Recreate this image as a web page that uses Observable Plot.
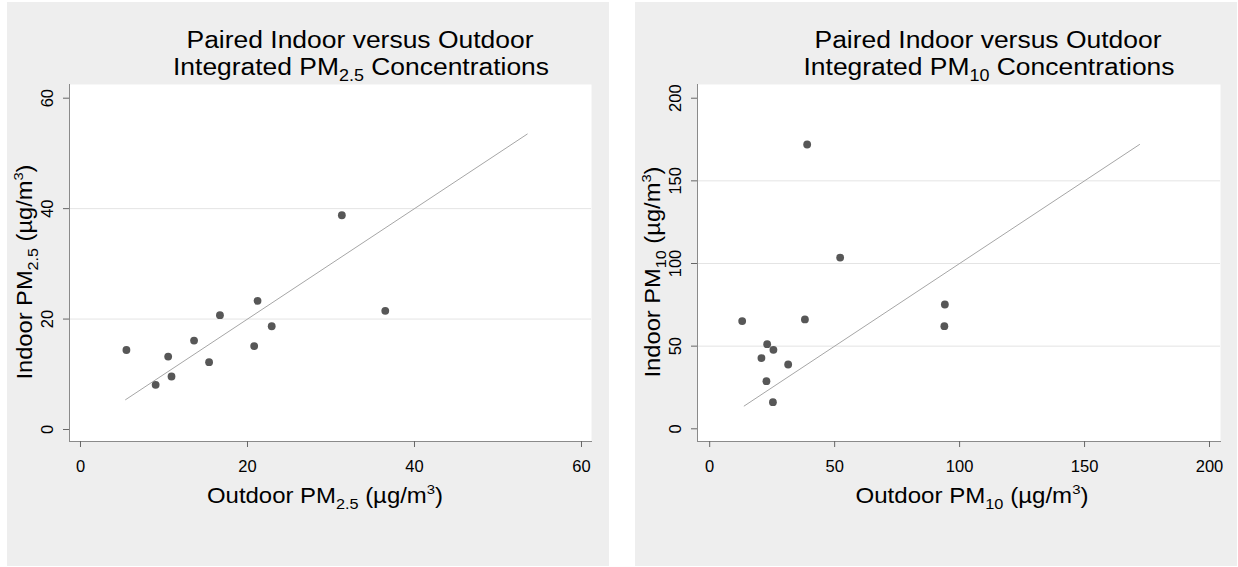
<!DOCTYPE html>
<html>
<head>
<meta charset="utf-8">
<script src="https://cdn.jsdelivr.net/npm/d3@7"></script>
<script src="https://cdn.jsdelivr.net/npm/@observablehq/plot@0.6"></script>
<style>
  html, body { margin: 0; padding: 0; background: #ffffff; }
  #wrap { position: relative; width: 1238px; height: 567px; overflow: hidden; }
  #wrap svg { position: absolute; }
</style>
</head>
<body>
<div id="wrap"></div>
<script>
// ---- Data ----
const pm25Outdoor = [5.5, 9.0, 10.5, 10.9, 13.6, 15.4, 16.7, 20.8, 21.2, 22.9, 31.3, 36.5];
const pm25Indoor  = [14.4, 8.1, 13.2, 9.6, 16.1, 12.2, 20.7, 15.1, 23.3, 18.7, 38.8, 21.5];
const pm25LineEnds = [5.4, 53.5];            // 1:1 reference line, y = x

const pm10Outdoor = [13.0, 20.7, 23.0, 22.7, 25.5, 25.3, 31.4, 38.1, 39.0, 52.2, 94.1, 93.9];
const pm10Indoor  = [65.2, 42.8, 51.2, 28.8, 47.8, 16.1, 38.9, 66.2, 172.0, 103.6, 75.2, 62.1];
const pm10LineEnds = [13.8, 172.0];          // 1:1 reference line, y = x

const pm25Ticks = [0, 20, 40, 60];
const pm25Grid  = [20, 40];
const pm10Ticks = [0, 50, 100, 150, 200];
const pm10Grid  = [50, 100, 150];

const titleLine1 = "Paired Indoor versus Outdoor";
const titleLine2 = ["Integrated PM", "Concentrations"];
const sub25 = "2.5";
const sub10 = "10";
const xTitleWord = "Outdoor PM";
const yTitleWord = "Indoor PM";
const unitText = ["(µg/m", "3", ")"];

// ---- Drawing ----
const FONT = "'Liberation Sans', Arial, Helvetica, sans-serif";
const W = 602, H = 564;

function richText(svg, {x, y, size, parts, length, rotate = 0, anchor = "middle"}) {
  const t = d3.select(svg).append("text")
    .attr("transform", `translate(${x},${y})` + (rotate ? ` rotate(${rotate})` : ""))
    .attr("text-anchor", anchor)
    .attr("font-family", FONT)
    .attr("font-size", size)
    .attr("fill", "#000");
  let shift = 0;
  parts.forEach(p => {
    const s = t.append("tspan").text(p.t);
    let target = 0, fs = size;
    if (p.sub) { target = size * 0.28; fs = size * 0.68; }
    if (p.sup) { target = -size * 0.42; fs = size * 0.62; }
    s.attr("font-size", fs);
    if (target !== shift) { s.attr("dy", target - shift); shift = target; }
  });
  if (length) t.attr("textLength", length).attr("lengthAdjust", "spacingAndGlyphs");
  return t;
}

function panel(cfg) {
  const pts = cfg.xs.map((x, i) => ({x, y: cfg.ys[i]}));
  const line = cfg.lineEnds.map(v => ({x: v, y: v}));
  const svg = Plot.plot({
    width: W, height: H,
    marginLeft: 62, marginRight: cfg.mr, marginTop: 82, marginBottom: 125,
    style: {background: "#eeeeee", fontFamily: FONT, overflow: "visible", color: "#000"},
    x: {domain: cfg.xDomain, axis: null},
    y: {domain: cfg.yDomain, axis: null},
    marks: [
      Plot.frame({fill: "white", stroke: null}),
      Plot.gridY(cfg.grid, {stroke: "#e4e4e4", strokeOpacity: 1, strokeWidth: 1}),
      Plot.frame({anchor: "left", stroke: "#8a8a8a"}),
      Plot.frame({anchor: "bottom", stroke: "#8a8a8a"}),
      Plot.axisX(cfg.ticks, {tickSize: 6, stroke: "#666", fill: "none", label: null}),
      Plot.axisY(cfg.ticks, {tickSize: 6, stroke: "#666", fill: "none", label: null}),
      Plot.text(cfg.ticks, {x: d => d, frameAnchor: "bottom", dy: 25, lineAnchor: "middle",
        textAnchor: "middle", fontSize: 16.5, fill: "#000"}),
      Plot.text(cfg.ticks, {y: d => d, frameAnchor: "left", dx: -21.5, rotate: -90,
        lineAnchor: "middle", textAnchor: "middle", fontSize: 16.5, fill: "#000"}),
      Plot.line(line, {x: "x", y: "y", stroke: "#a6a6a6", strokeWidth: 1}),
      Plot.dot(pts, {x: "x", y: "y", r: 3.9, fill: "#575757", stroke: "none"})
    ]
  });
  svg.style.left = cfg.left + "px";
  svg.style.top = "2px";

  // titles
  richText(svg, {x: 353, y: 46, size: 23.5, parts: [{t: titleLine1}], length: 347});
  richText(svg, {x: 354, y: 72.5, size: 23.5,
    parts: [{t: titleLine2[0]}, {t: cfg.sub, sub: true}, {t: " " + titleLine2[1]}], length: cfg.t2len});
  // x axis title
  richText(svg, {x: cfg.xtx, y: 501, size: 21.5,
    parts: [{t: xTitleWord}, {t: cfg.sub, sub: true}, {t: " " + unitText[0]}, {t: unitText[1], sup: true}, {t: unitText[2]}],
    length: cfg.xtlen});
  // y axis title
  richText(svg, {x: 25, y: 270, size: 21.5, rotate: -90,
    parts: [{t: yTitleWord}, {t: cfg.sub, sub: true}, {t: " " + unitText[0]}, {t: unitText[1], sup: true}, {t: unitText[2]}],
    length: cfg.ytlen});
  return svg;
}

const wrap = document.getElementById("wrap");
wrap.appendChild(panel({
  left: 7, mr: 18,
  xs: pm25Outdoor, ys: pm25Indoor, lineEnds: pm25LineEnds,
  xDomain: [-1.317, 61.198], yDomain: [-2.173, 62.481],
  ticks: pm25Ticks, grid: pm25Grid, sub: sub25,
  t2len: 376, xtx: 318, xtlen: 236, ytlen: 215
}));
wrap.appendChild(panel({
  left: 635, mr: 17,
  xs: pm10Outdoor, ys: pm10Indoor, lineEnds: pm10LineEnds,
  xDomain: [-4.882, 204.4], yDomain: [-7.68, 208.29],
  ticks: pm10Ticks, grid: pm10Grid, sub: sub10,
  t2len: 371, xtx: 337, xtlen: 233, ytlen: 211
}));
</script>
</body>
</html>
